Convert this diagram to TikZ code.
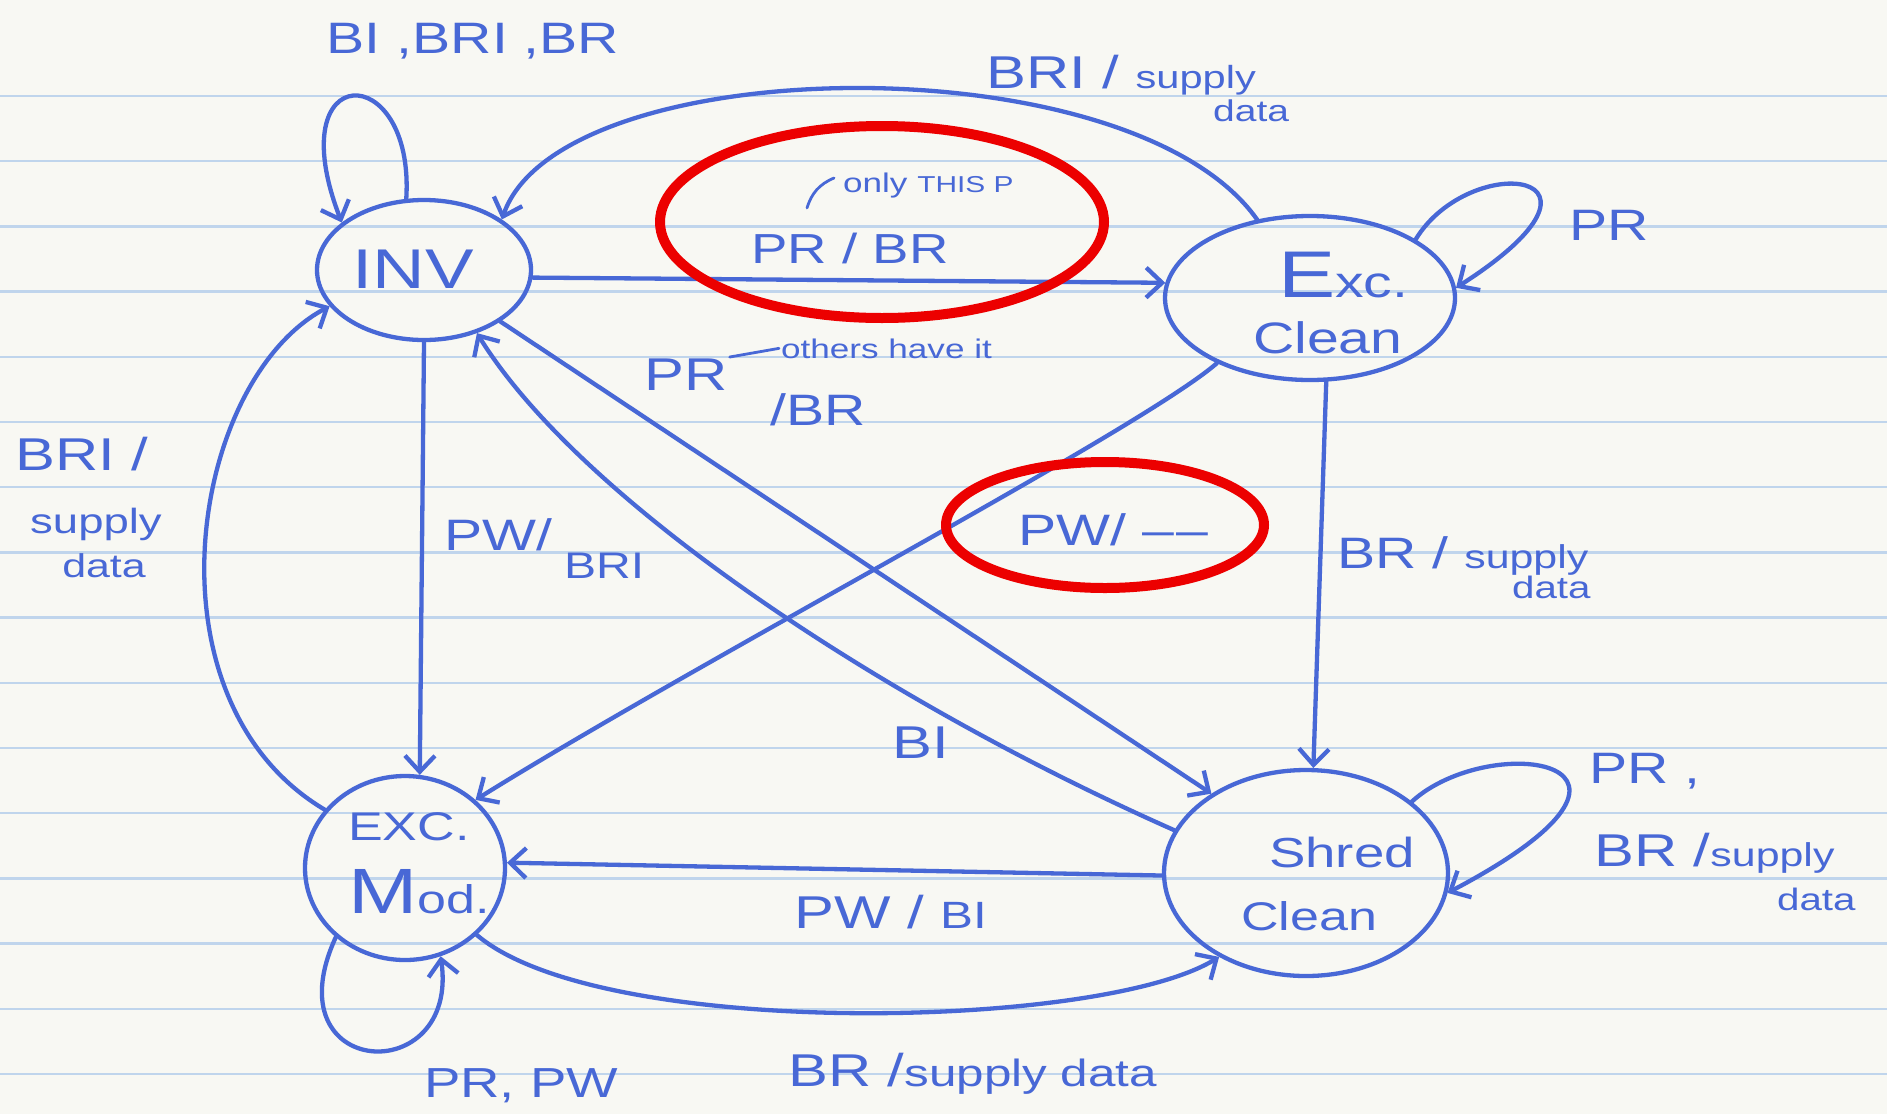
\documentclass[tikz,border=0pt]{standalone}
\usepackage{fontspec}
\setmainfont{Liberation Sans}[FakeStretch=1.3]
\usetikzlibrary{arrows.meta,shapes.geometric}
\definecolor{ink}{RGB}{72,104,214}
\definecolor{rulecol}{RGB}{192,213,236}
\definecolor{paper}{RGB}{248,248,243}
\definecolor{marker}{RGB}{236,0,0}
\newcommand{\hsz}[1]{\fontsize{#1pt}{#1pt}\selectfont}
\begin{document}
\begin{tikzpicture}[x=1pt, y=-1pt,
  line width=4.3pt, draw=ink, line cap=round, line join=round,
  >={Straight Barb[length=16pt, width=30pt]},
  state/.style={ellipse, draw=ink, inner sep=0pt, line width=4.3pt},
  lab/.style={inner sep=0pt, text=ink},
  note/.style={line width=2.8pt}]

% paper and ruling
\fill[paper] (0,0) rectangle (1887,1114);
\useasboundingbox (0,0) rectangle (1887,1114);
\foreach \k in {0,...,15}
  \draw[rulecol, line width=2.4pt] (0,{96+65.2*\k}) -- (1887,{96+65.2*\k});

% states
\node[state, minimum width=214pt, minimum height=140pt] (inv) at (424,270) {};
\node[state, minimum width=290pt, minimum height=164pt] (ec)  at (1310,298) {};
\node[state, minimum width=200pt, minimum height=184pt] (em)  at (405,868) {};
\node[state, minimum width=284pt, minimum height=206pt] (sh)  at (1306,873) {};

% state names
\node[lab, anchor=base] (tinv) at (413,288) {\hsz{56}INV};
\node[lab, anchor=base west] (tec1) at (1276,297) {\hsz{66}E\hsz{44}xc.};
\node[lab, anchor=base west] (tec2) at (1251,353) {\hsz{44}Clean};
\node[lab, anchor=base west] (tem1) at (346,840) {\hsz{40}EXC.};
\node[lab, anchor=base west] (tem2) at (346,913) {\hsz{64}M\hsz{40}od.};
\node[lab, anchor=base west] (tsh1) at (1267,867) {\hsz{42}Shred};
\node[lab, anchor=base west] (tsh2) at (1239,930) {\hsz{40}Clean};

% transitions
\draw[->] (inv.104) .. controls (415,58) and (278,58) .. (inv.150);
\draw[->] (ec.124) .. controls (1130,40) and (560,50) .. (inv.33);
\draw[->] (inv.-4) -- (ec.174);
\draw[->] (ec.29) .. controls (1470,150) and (1640,170) .. (ec.4);
\draw[->] (ec.-79) -- (sh.86);
\draw[->] (sh.34) .. controls (1490,730) and (1700,760) .. (sh.-8);
\draw[->] (inv.-90) -- (em.81);
\draw[->] (em.144) .. controls (140,700) and (190,380) .. (inv.201);
\draw[->] (inv.-34) -- (sh.140);
\draw[->] (sh.162) .. controls (880,700) and (580,500) .. (inv.-50);
\draw[->] (ec.215) .. controls (1140,430) and (700,660) .. (em.44);
\draw[->] (sh.181) -- (em.3);
\draw[->] (em.-43) .. controls (600,1040) and (1100,1030) .. (sh.224);
\draw[->] (em.-135) .. controls (270,1080) and (460,1090) .. (em.-68);

% transition labels
\node[lab, anchor=base] (l1) at (473,53) {\hsz{44}BI ,BRI ,BR};
\node[lab, anchor=base west] (l2) at (984,88) {\hsz{46}BRI / \hsz{32}supply};
\node[lab, anchor=base west] (l2b) at (1211,121) {\hsz{30}data};
\node[lab, anchor=base] (l3) at (850,263) {\hsz{42}PR / BR};
\node[lab, anchor=base west] (l3b) at (841,192) {\hsz{27}only \hsz{23}THIS P};
\coordinate (tickA) at (834,178);
\coordinate (tickB) at (807,208);
\draw[note] (tickA) to[bend right=25] (tickB);
\node[lab, anchor=base west] (l4) at (1567,240) {\hsz{44}PR};
\node[lab] (l5) at (686,375) {\hsz{46}PR};
\node[lab, anchor=base west] (l5b) at (779,358) {\hsz{27}others have it};
\draw[note] (l5.north east) -- (l5b.west);
\node[lab] (l5c) at (818,410) {\hsz{44}/BR};
\node[lab, anchor=base west] (l6) at (442,550) {\hsz{44}PW/};
\node[lab, anchor=base west] (l6b) at (562,578) {\hsz{37}BRI};
\node[lab, anchor=base west] (l7) at (13,470) {\hsz{46}BRI /};
\node[lab] (l7b) at (96,524) {\hsz{35}supply};
\node[lab] (l7c) at (104,566) {\hsz{33}data};
\node[lab, anchor=base west] (l8) at (1335,568) {\hsz{44}BR / \hsz{33}supply};
\node[lab, anchor=base west] (l8b) at (1510,598) {\hsz{31}data};
\node[lab, anchor=base west] (l9) at (1587,783) {\hsz{44}PR ,};
\node[lab, anchor=base west] (l9b) at (1592,866) {\hsz{46}BR /\hsz{33}supply};
\node[lab, anchor=base west] (l9c) at (1775,910) {\hsz{31}data};
\node[lab] (l10) at (921,743) {\hsz{46}BI};
\node[lab, anchor=base west] (l11) at (1016,545) {\hsz{44}PW/ \textendash\kern3pt\textendash};
\node[lab, anchor=base west] (l12) at (792,928) {\hsz{46}PW / \hsz{38}BI};
\node[lab, anchor=base west] (l13) at (786,1086) {\hsz{46}BR /\hsz{38}supply data};
\node[lab, anchor=base west] (l14) at (422,1097) {\hsz{42}PR, PW};

% red markings
\draw[marker, line width=10pt] (882,222) ellipse [x radius=222, y radius=96];
\draw[marker, line width=10pt] (1105,525) ellipse [x radius=159, y radius=63];
\end{tikzpicture}
\end{document}
